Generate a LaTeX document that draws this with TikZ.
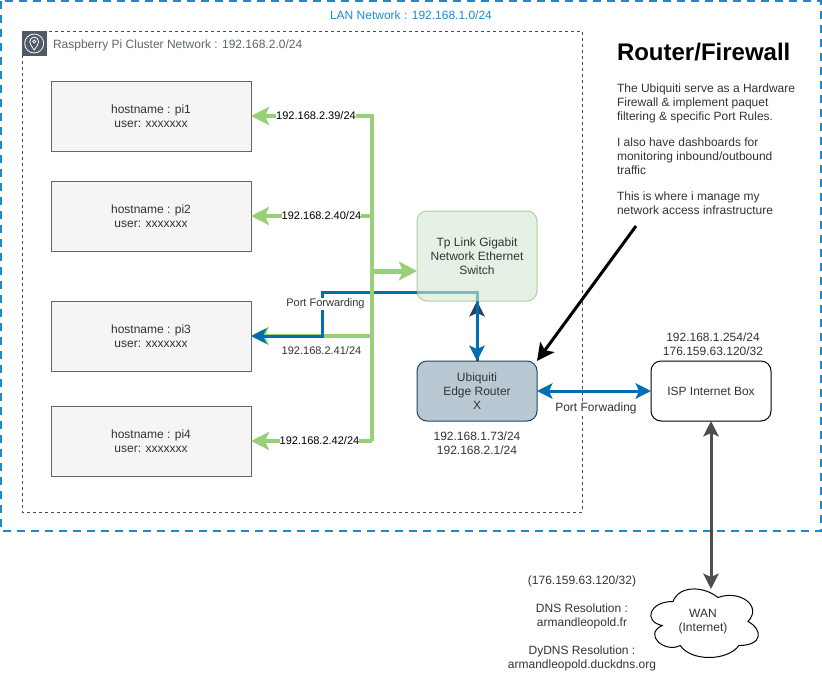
\documentclass[tikz,border=0pt]{standalone}
\usepackage{fontspec}
\setmainfont{Liberation Sans}
\usetikzlibrary{arrows.meta}
\definecolor{blueln}{HTML}{006EAF}
\definecolor{navy}{HTML}{23445D}
\definecolor{dashblue}{HTML}{1F8ACB}
\definecolor{greenln}{HTML}{97D077}
\definecolor{grayln}{HTML}{666666}
\definecolor{darkln}{HTML}{4D4D4D}
\definecolor{txt}{HTML}{333333}
\definecolor{icongray}{HTML}{505A66}
\definecolor{clustertxt}{HTML}{5A6670}
\definecolor{switchfill}{RGB}{213,232,212}
\definecolor{switchline}{RGB}{130,179,102}
\definecolor{routerfill}{RGB}{186,200,211}
\tikzset{
  x=0.75pt,y=-0.75pt,
  every node/.style={font=\fontsize{9}{10.5}\selectfont,text=txt,align=center,inner sep=0pt,outer sep=0pt},
  pibox/.style={draw=grayln,fill=black!4,line width=0.75pt,minimum width=150pt,minimum height=52.5pt},
  roundbox/.style={rounded corners=7.5pt,minimum width=90pt},
  lbl/.style={fill=white,text=black,inner ysep=0.5pt,font=\fontsize{8.25}{10}\selectfont},
  greenarrow/.style={draw=greenln,line width=3pt,-{Stealth[length=13.5pt,width=13.5pt,inset=3pt,fill=greenln]}},
  bluelink/.style={blueln,line width=2.25pt,{Stealth[length=11.5pt,width=11.5pt,inset=2.5pt]}-{Stealth[length=11.5pt,width=11.5pt,inset=2.5pt]}},
}
\begin{document}
\begin{tikzpicture}
\useasboundingbox (0,0) rectangle (822,672);
\node[text=dashblue] (lanlabel) at (411,15) {LAN Network : 192.168.1.0/24};
\node[anchor=west,text=clustertxt] (clusterlabel) at (53,45) {Raspberry Pi Cluster Network : 192.168.2.0/24};
\draw[dashblue,line width=1.5pt,dash pattern=on 6pt off 4.5pt] (1,1) rectangle (821,531);
\draw[black!70,line width=0.75pt,dash pattern=on 2.25pt off 2.25pt] (22,31) rectangle (582,512);
\fill[icongray] (22,31) rectangle (46.5,56);
\draw[white,line width=0.6pt] (34.2,43.5) circle (9.5);
\draw[white,line width=0.6pt] (34.2,50) .. controls (31.5,46) and (29.8,44) .. (29.8,41.5) arc[start angle=180,end angle=360,radius=4.4] .. controls (38.6,44) and (36.9,46) .. cycle;
\draw[white,line width=0.5pt] (34.2,41.5) circle (1.6);

\node[pibox] (pi1) at (151,116) {hostname : pi1\\user: xxxxxxx};
\node[pibox] (pi2) at (151,216) {hostname : pi2\\user: xxxxxxx};
\node[pibox] (pi3) at (151,336) {hostname : pi3\\user: xxxxxxx};
\node[pibox] (pi4) at (151,441) {hostname : pi4\\user: xxxxxxx};

\coordinate (bustop) at (372,116);
\coordinate (bus2) at (372,216);
\coordinate (busw) at (372,271);
\coordinate (bus3) at (372,336);
\coordinate (busbot) at (372,441);
\coordinate (fwcorner) at (322,336);
\coordinate (fwup) at (322,292);
\coordinate (fwright) at (477,292);
\coordinate (swbottom) at (477,301);
\coordinate (swleft) at (417,271);
\coordinate (routertop) at (477,361);
\coordinate (wantop) at (711,589);
\coordinate (blackstart) at (636,226);

% green branch to pi3 lies under the blue line
\draw[greenarrow] (bus3) -- (pi3.east);
% dark head of the router-switch link, under the blue line
\draw[navy,line width=2.25pt,-{Stealth[length=11.5pt,width=11.5pt,inset=2.5pt,fill=navy]}] (routertop) -- (swbottom);
% blue port-forwarding link
\draw[bluelink,line join=miter] (pi3.east) -- (fwcorner) -- (fwup) -- (fwright) -- (routertop);
% green bus
\draw[greenarrow,line join=miter] (busbot) -- (bustop) -- (pi1.east);
\draw[greenarrow] (bus2) -- (pi2.east);
\draw[greenarrow] (busbot) -- (pi4.east);

\node[roundbox,fill=switchfill,fill opacity=0.6,draw=switchline,draw opacity=0.6,text opacity=1,minimum height=67.5pt,line width=0.75pt] (switch) at (477,256) {Tp Link Gigabit\\Network Ethernet\\Switch};
\node[roundbox,draw=navy,fill=routerfill,line width=0.75pt,minimum height=45pt] (router) at (477,391) {Ubiquiti\\Edge Router\\X};
\node[roundbox,draw=black,fill=white,line width=0.75pt,minimum height=45pt] (isp) at (711,391) {ISP Internet Box};

\begin{scope}[shift={(643,581.5)}]
\draw[black,fill=white,line width=0.75pt] (30,20) .. controls (6,20) and (0,40) .. (19.2,44) .. controls (0,52.8) and (21.6,72) .. (37.2,64) .. controls (48,80) and (84,80) .. (96,64) .. controls (120,64) and (120,48) .. (105,40) .. controls (120,24) and (96,8) .. (75,16) .. controls (60,4) and (36,4) .. (30,20) -- cycle;
\end{scope}
\node (wan) at (703,621.5) {WAN\\(Internet)};

\draw[draw=greenln,line width=3.75pt,-{Stealth[length=13.5pt,width=14pt,inset=3pt,fill=greenln]}] (busw) -- (swleft);
\draw[bluelink] (router.east) -- (isp.west);
\draw[darkln,line width=2.25pt,{Stealth[length=11.5pt,width=11.5pt,inset=2.5pt]}-{Stealth[length=11.5pt,width=11.5pt,inset=2.5pt]}] (isp.south) -- (wantop);
\draw[black,line width=2.25pt,-{Stealth[length=13pt,width=13pt,inset=3pt]}] (blackstart) -- (router.north east);

\node[lbl] (l1) at (316,116) {192.168.2.39/24};
\node[lbl] (l2) at (321.5,216) {192.168.2.40/24};
\node[lbl] (l4) at (319.5,441) {192.168.2.42/24};
\node[lbl,fill=none,text=txt] (l3) at (321.5,351) {192.168.2.41/24};
\node[lbl,text=txt] (pf) at (325.5,304) {Port Forwarding};
\node[fill=white,text=txt,inner ysep=0.5pt] (pf2) at (596,408.5) {Port Forwading};

\node (rip) at (477,443) {192.168.1.73/24\\192.168.2.1/24};
\node (iip) at (713,344) {192.168.1.254/24\\176.159.63.120/32};
\node[anchor=north,align=center] (dns) at (582,575.5) {(176.159.63.120/32)\\[10.5pt]DNS Resolution :\\armandleopold.fr\\[10.5pt]DyDNS Resolution :\\armandleopold.duckdns.org};
\node[anchor=west,font=\fontsize{18}{21}\selectfont\bfseries,text=black] (title) at (617,52) {Router/Firewall};
\node[anchor=north west,align=left] (desc) at (617,83.5) {The Ubiquiti serve as a Hardware\\Firewall \& implement paquet\\filtering \& specific Port Rules.\\[9pt]I also have dashboards for\\monitoring inbound/outbound\\traffic\\[9pt]This is where i manage my\\network access infrastructure};
\end{tikzpicture}
\end{document}
